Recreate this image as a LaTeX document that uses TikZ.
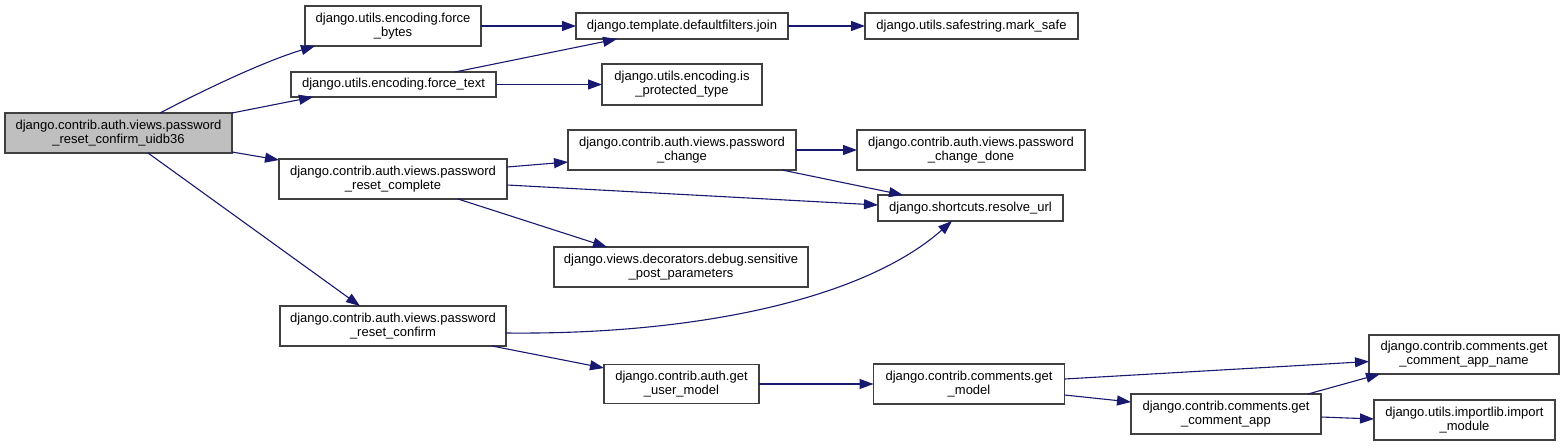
\documentclass[tikz,border=0pt]{standalone}
\usepackage{fontspec}
\setmainfont{Liberation Sans}
\usetikzlibrary{arrows.meta,calc}
\definecolor{edgec}{HTML}{191970}
\definecolor{boxc}{HTML}{404040}
\definecolor{rootfill}{HTML}{BFBFBF}
\begin{document}
\begin{tikzpicture}[x=1pt,y=-1pt,
  fn/.style={draw=boxc, line width=1.3pt, fill=white, align=center, inner sep=0pt, outer sep=0pt,
    font=\fontsize{13}{14}\selectfont, text=black},
  call/.style={draw=edgec, line width=1.1pt, -{Triangle[length=14pt,width=10pt]}, color=edgec}]
\useasboundingbox (0,0) rectangle (1565,447);
\fill[white] (0,0) rectangle (1565,447);

\node[fn, fill=rootfill, minimum width=227pt, minimum height=40pt] (root) at (118.5,133) {django.contrib.auth.views.password\\\_reset\_confirm\_uidb36};
\node[fn, minimum width=176pt, minimum height=40pt] (fb) at (393,26) {django.utils.encoding.force\\\_bytes};
\node[fn, minimum width=205pt, minimum height=25pt] (ft) at (393.5,84.5) {django.utils.encoding.force\_text};
\node[fn, minimum width=212pt, minimum height=26pt] (join) at (682,26) {django.template.defaultfilters.join};
\node[fn, minimum width=213pt, minimum height=26pt] (ms) at (971.5,26) {django.utils.safestring.mark\_safe};
\node[fn, minimum width=160pt, minimum height=41pt] (ipt) at (682,84.5) {django.utils.encoding.is\\\_protected\_type};
\node[fn, minimum width=228pt, minimum height=40pt] (prc) at (393,179) {django.contrib.auth.views.password\\\_reset\_complete};
\node[fn, minimum width=228pt, minimum height=40pt] (pc) at (682,150) {django.contrib.auth.views.password\\\_change};
\node[fn, minimum width=228pt, minimum height=40pt] (pcd) at (971,150) {django.contrib.auth.views.password\\\_change\_done};
\node[fn, minimum width=185pt, minimum height=26pt] (ru) at (970.5,208) {django.shortcuts.resolve\_url};
\node[fn, minimum width=254pt, minimum height=40pt] (sp) at (681,267) {django.views.decorators.debug.sensitive\\\_post\_parameters};
\node[fn, minimum width=226pt, minimum height=40pt] (prcf) at (393,326) {django.contrib.auth.views.password\\\_reset\_confirm};
\node[fn, minimum width=155pt, minimum height=39pt] (gum) at (681.5,384) {django.contrib.auth.get\\\_user\_model};
\node[fn, minimum width=191pt, minimum height=40pt] (gm) at (969,384) {django.contrib.comments.get\\\_model};
\node[fn, minimum width=190pt, minimum height=40pt] (gca) at (1226,414) {django.contrib.comments.get\\\_comment\_app};
\node[fn, minimum width=190pt, minimum height=39pt] (gcan) at (1464,354.5) {django.contrib.comments.get\\\_comment\_app\_name};
\node[fn, minimum width=181pt, minimum height=40pt] (im) at (1464.5,420) {django.utils.importlib.import\\\_module};

% edges
\draw[call] ([xshift=41.5pt]root.north) .. controls (200,92) and (262,62) .. ([xshift=-78pt]fb.south);
\draw[call] (root.north east) -- ([xshift=-80.5pt]ft.south);
\draw[call] ([yshift=1pt]root.south east) -- ([yshift=-1pt]prc.north west);
\draw[call] ([xshift=29.5pt]root.south) -- ([xshift=-33pt]prcf.north);
\draw[call] (fb.east) -- (join.west);
\draw[call] ([xshift=61.5pt]ft.north) -- ([xshift=-65pt]join.south);
\draw[call] (ft.east) -- (ipt.west);
\draw[call] (join.east) -- (ms.west);
\draw[call] ([yshift=12pt]prc.east) -- ([yshift=-12pt]pc.west);
\draw[call] ([yshift=-6pt]prc.east) -- ([yshift=3pt]ru.west);
\draw[call] ([xshift=65pt]prc.south) -- ([xshift=-74pt]sp.north);
\draw[call] (pc.east) -- (pcd.west);
\draw[call] ([xshift=100pt]pc.south) -- ([xshift=-67.5pt]ru.north);
\draw[call] ([yshift=-7pt]prcf.east) .. controls (700,335) and (865,298) .. ([xshift=-18.5pt]ru.south);
\draw[call] ([xshift=99pt]prcf.south) -- ([yshift=16pt]gum.west);
\draw[call] (gum.east) -- (gm.west);
\draw[call] ([yshift=5pt]gm.east) -- ([yshift=-7pt]gcan.west);
\draw[call] ([yshift=-11pt]gm.east) -- ([yshift=12pt]gca.west);
\draw[call] ([xshift=82pt]gca.north) -- ([xshift=-84pt]gcan.south);
\draw[call] ([yshift=-3pt]gca.east) -- ([yshift=1pt]im.west);
\end{tikzpicture}
\end{document}
